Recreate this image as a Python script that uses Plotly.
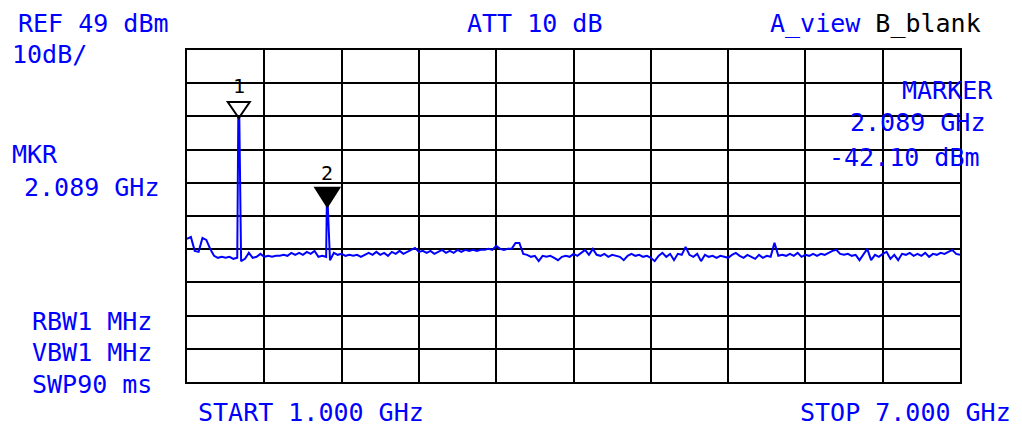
import plotly.graph_objects as go

# Sweep settings shown on the screen
start_ghz = 1.0
stop_ghz = 7.0
ref_dbm = 49
db_per_div = 10

# Trace A
freq_ghz = [
    1.00, 1.03, 1.06, 1.09, 1.12, 1.15, 1.18, 1.21, 1.24, 1.27,
    1.30, 1.33, 1.36, 1.39, 1.398, 1.406, 1.42, 1.45, 1.48, 1.51,
    1.54, 1.57, 1.60, 1.63, 1.66, 1.69, 1.72, 1.75, 1.78, 1.81,
    1.84, 1.87, 1.90, 1.93, 1.96, 1.99, 2.02, 2.05, 2.08, 2.085,
    2.093, 2.11, 2.14, 2.17, 2.20, 2.23, 2.26, 2.29, 2.32, 2.35,
    2.38, 2.41, 2.44, 2.47, 2.50, 2.53, 2.56, 2.59, 2.62, 2.65,
    2.68, 2.71, 2.74, 2.77, 2.80, 2.83, 2.86, 2.89, 2.92, 2.95,
    2.98, 3.01, 3.04, 3.07, 3.10, 3.13, 3.16, 3.19, 3.22, 3.25,
    3.28, 3.31, 3.34, 3.37, 3.40, 3.43, 3.46, 3.49, 3.52, 3.55,
    3.58, 3.61, 3.64, 3.67, 3.70, 3.73, 3.76, 3.79, 3.82, 3.85,
    3.88, 3.91, 3.94, 3.97, 4.00, 4.03, 4.06, 4.09, 4.12, 4.15,
    4.18, 4.21, 4.24, 4.27, 4.30, 4.33, 4.36, 4.39, 4.42, 4.45,
    4.48, 4.51, 4.54, 4.57, 4.60, 4.63, 4.66, 4.69, 4.72, 4.75,
    4.78, 4.81, 4.84, 4.87, 4.90, 4.93, 4.96, 4.99, 5.02, 5.05,
    5.08, 5.11, 5.14, 5.17, 5.20, 5.23, 5.26, 5.29, 5.32, 5.35,
    5.38, 5.41, 5.44, 5.47, 5.50, 5.53, 5.56, 5.59, 5.62, 5.65,
    5.68, 5.71, 5.74, 5.77, 5.80, 5.83, 5.86, 5.89, 5.92, 5.95,
    5.98, 6.01, 6.04, 6.07, 6.10, 6.13, 6.16, 6.19, 6.22, 6.25,
    6.28, 6.31, 6.34, 6.37, 6.40, 6.43, 6.46, 6.49, 6.52, 6.55,
    6.58, 6.61, 6.64, 6.67, 6.70, 6.73, 6.76, 6.79, 6.82, 6.85,
    6.88, 6.91, 6.94, 6.97, 7.00,
]
level_dbm = [
    -7.9, -7.3, -11.5, -11.8, -7.6, -8.2, -10.9, -13.0, -13.6, -13.3,
    -13.6, -13.3, -13.9, -13.6, 28.5, 28.5, -14.6, -13.9, -12.1, -13.6,
    -13.3, -12.4, -13.3, -13.0, -13.3, -13.0, -13.0, -12.7, -13.0, -12.1,
    -12.7, -12.1, -12.7, -11.8, -12.4, -11.5, -13.3, -13.0, -13.3, 1.8,
    1.8, -14.3, -12.1, -12.7, -12.4, -13.0, -12.7, -13.0, -12.7, -13.3,
    -12.7, -12.1, -12.7, -11.8, -12.7, -12.1, -13.0, -11.8, -12.4, -11.5,
    -12.4, -11.8, -11.2, -10.6, -11.8, -11.5, -12.1, -11.5, -12.4, -11.8,
    -11.2, -12.1, -11.5, -12.1, -11.2, -11.8, -11.2, -11.5, -11.2, -11.5,
    -11.2, -11.2, -10.9, -11.2, -10.0, -10.9, -11.2, -10.9, -10.9, -9.1,
    -9.1, -12.4, -12.7, -13.3, -13.0, -14.6, -13.0, -13.3, -13.0, -13.6,
    -14.3, -13.3, -13.0, -13.3, -12.4, -13.0, -12.1, -11.2, -12.7, -10.9,
    -12.7, -13.0, -12.4, -13.3, -12.7, -13.0, -13.3, -14.3, -13.0, -12.4,
    -13.0, -12.7, -13.3, -13.0, -13.6, -14.6, -13.0, -12.1, -13.3, -12.4,
    -14.3, -12.4, -12.7, -10.3, -12.7, -13.3, -12.4, -14.6, -12.7, -13.3,
    -13.0, -13.6, -13.0, -13.3, -13.6, -12.7, -12.1, -13.0, -13.6, -12.7,
    -13.3, -13.9, -12.7, -13.6, -13.0, -13.3, -9.1, -13.0, -12.7, -13.0,
    -12.4, -13.0, -12.1, -13.3, -12.7, -13.0, -12.4, -13.0, -12.4, -12.7,
    -12.1, -11.5, -11.2, -12.4, -12.7, -12.4, -13.0, -12.7, -14.3, -12.4,
    -10.9, -14.3, -12.7, -13.3, -12.4, -11.8, -13.9, -12.7, -14.3, -12.4,
    -12.7, -12.1, -13.0, -12.4, -13.0, -12.1, -13.3, -12.4, -12.7, -12.1,
    -12.4, -11.8, -11.2, -12.4, -12.7,
]

# Markers: number, frequency, filled (active) or not
marker_ids = ["1", "2"]
marker_freq_ghz = [1.402, 2.089]
marker_filled = [False, True]

BLUE = "#0000ff"
FONT = "DejaVu Sans Mono"

# plot area in page pixels; the page body adds an 8px margin
L, R, T, B = 187, 960, 50, 382
W, H = 1022, 437
OFF = 8


def paper_x(px):
    return (px - L) / (R - L)


def paper_y(py):
    return (B - py) / (B - T)


fig = go.Figure()
fig.add_trace(
    go.Scatter(
        x=freq_ghz,
        y=level_dbm,
        mode="lines",
        line=dict(color=BLUE, width=2),
        hoverinfo="x+y",
        showlegend=False,
    )
)

# marker triangles and their numbers
for mid, mf, filled in zip(marker_ids, marker_freq_ghz, marker_filled):
    near = [lv for f, lv in zip(freq_ghz, level_dbm) if abs(f - mf) < 0.01]
    peak = max(near)
    if filled:
        path, fill, shift = "M -12,19 L 12,19 L 0,0 Z", "black", 34
    else:
        path, fill, shift = "M -11,16 L 11,16 L 0,0 Z", "rgba(0,0,0,0)", 32
    fig.add_shape(
        type="path",
        xsizemode="pixel",
        ysizemode="pixel",
        xanchor=mf,
        yanchor=peak,
        path=path,
        fillcolor=fill,
        line=dict(color="black", width=2),
        layer="above",
    )
    fig.add_annotation(
        x=mf, y=peak, text=mid, showarrow=False, yshift=shift,
        font=dict(family=FONT, size=20, color="black"),
    )

# screen annotations (text, centre x px, centre y px)
labels = [
    ("REF 49 dBm", 93, 24),
    ("10dB/", 49, 55),
    ("ATT 10 dB", 534, 24),
    ("<span style='color:#0000ff'>A_view</span> B_blank", 875, 24),
    ("MKR", 35, 154),
    ("2.089 GHz", 91, 188),
    ("RBW1 MHz", 92, 321),
    ("VBW1 MHz", 92, 352),
    ("SWP90 ms", 92, 385),
    ("START 1.000 GHz", 311, 412),
    ("STOP 7.000 GHz", 905, 412),
    ("MARKER", 947, 90),
    ("2.089 GHz", 917, 122),
    ("-42.10 dBm", 904, 157),
]
for text, cx, cy in labels:
    color = "black" if text.startswith("<span") else BLUE
    fig.add_annotation(
        xref="paper", yref="paper", x=paper_x(cx), y=paper_y(cy),
        xanchor="center", yanchor="middle", text=text, showarrow=False,
        font=dict(family=FONT, size=25, color=color),
    )

axis_style = dict(
    showgrid=True, gridcolor="black", gridwidth=2,
    showline=True, linecolor="black", linewidth=2, mirror=True,
    zeroline=False, showticklabels=False, ticks="",
)
fig.update_xaxes(range=[start_ghz, stop_ghz], tick0=start_ghz,
                 dtick=(stop_ghz - start_ghz) / 10, **axis_style)
fig.update_yaxes(range=[ref_dbm - 10 * db_per_div, ref_dbm],
                 tick0=ref_dbm - 10 * db_per_div, dtick=db_per_div, **axis_style)
fig.update_layout(
    width=W - OFF, height=H - OFF,
    margin=dict(l=L - OFF, r=W - R, t=T - OFF, b=H - B),
    paper_bgcolor="white", plot_bgcolor="white",
    showlegend=False,
)

fig.write_html("out.html")
